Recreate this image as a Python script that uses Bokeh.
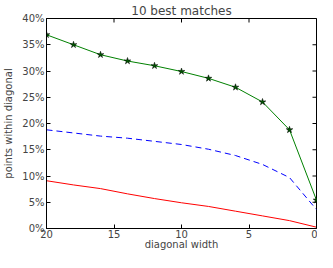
import math
from bokeh.plotting import figure
from bokeh.models import Range1d, FixedTicker, PrintfTickFormatter
from bokeh.embed import file_html
from bokeh.resources import INLINE

# data (percent of points within diagonal)
widths = [20, 18, 16, 14, 12, 10, 8, 6, 4, 2, 0]
best10 = [36.9, 35.0, 33.1, 31.9, 31.0, 29.9, 28.6, 26.9, 24.1, 18.8, 5.4]
dashed_series = [18.8, 18.2, 17.6, 17.2, 16.6, 16.0, 15.1, 13.9, 12.2, 9.7, 3.6]
red_series = [9.1, 8.3, 7.6, 6.6, 5.7, 4.9, 4.2, 3.3, 2.4, 1.5, 0.25]
x_ticks = [0, 5, 10, 15, 20]
y_ticks = [0, 5, 10, 15, 20, 25, 30, 35, 40]

FONT = "DejaVu Sans"
X_LO, X_HI = 0, 20
Y_LO, Y_HI = 0, 40

p = figure(width=317, height=252, output_backend="svg", toolbar_location=None,
           x_range=Range1d(X_HI, X_LO), y_range=Range1d(Y_LO, Y_HI),
           title="10 best matches", min_border_left=0, min_border_right=1,
           min_border_top=2, min_border_bottom=0)

p.title.text_font = FONT
p.title.text_font_size = "12px"
p.title.text_font_style = "normal"
p.title.align = "center"
p.title.standoff = 2
p.title.offset = 0

p.grid.grid_line_color = None
p.outline_line_color = "black"
p.outline_line_width = 1
p.background_fill_color = "white"
p.border_fill_color = "white"

for ax in (p.xaxis[0], p.yaxis[0]):
    ax.major_tick_in = 4
    ax.major_tick_out = 0
    ax.minor_tick_line_color = None
    ax.major_label_text_font = FONT
    ax.major_label_text_font_size = "10px"
    ax.axis_label_text_font = FONT
    ax.axis_label_text_font_size = "10px"
    ax.axis_label_text_font_style = "normal"
    ax.axis_line_color = "black"

p.xaxis.major_label_standoff = 1
p.xaxis.axis_label_standoff = -2
p.xaxis.major_label_text_line_height = 1.0
p.xaxis.axis_label_text_line_height = 1.0
p.yaxis.major_label_standoff = 2
p.yaxis.axis_label_standoff = 5

p.xaxis.ticker = FixedTicker(ticks=x_ticks)
p.yaxis.ticker = FixedTicker(ticks=y_ticks)
p.yaxis.formatter = PrintfTickFormatter(format="%d%%")
p.xaxis.axis_label = "diagonal width"
p.yaxis.axis_label = "points within diagonal"

# inward tick marks on the top and right frame edges (half of each dash is clipped)
p.scatter(x_ticks, [Y_HI] * len(x_ticks), marker="dash", angle=math.pi / 2, size=8,
          line_color="black", line_width=1)
p.scatter([X_LO] * len(y_ticks), y_ticks, marker="dash", size=8,
          line_color="black", line_width=1)

p.line(widths, red_series, line_color="#ff0000", line_width=1)
p.line(widths, dashed_series, line_color="#0000ff", line_width=1, line_dash="6 4")
p.line(widths, best10, line_color="#008000", line_width=1)
p.scatter(widths, best10, marker="star", size=7, fill_color="#005500", line_color="black",
          line_width=0.5)

open("out.html", "w").write(file_html(p, INLINE))
